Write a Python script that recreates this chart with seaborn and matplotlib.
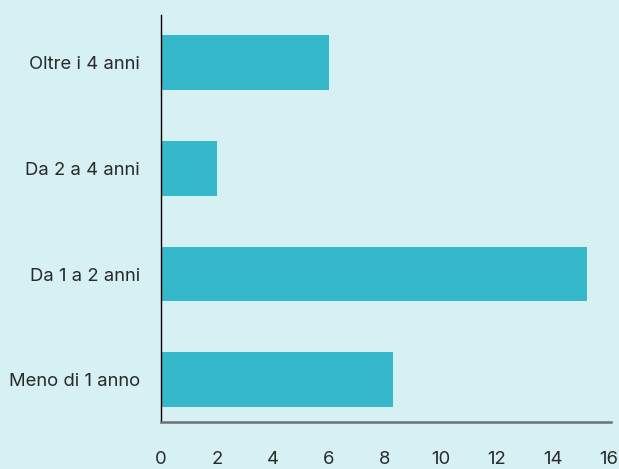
import pandas as pd
import matplotlib
matplotlib.use("Agg")
import matplotlib.pyplot as plt
import seaborn as sns

# data
categories = ["Oltre i 4 anni", "Da 2 a 4 anni", "Da 1 a 2 anni", "Meno di 1 anno"]
values = [6.0, 2.0, 15.2, 8.3]

df = pd.DataFrame({"Durata": categories, "Valore": values})

sns.set_style("white")
plt.rcParams["font.family"] = ["Inter", "DejaVu Sans"]

bg = "#d6f0f3"
bar_color = "#35b8ca"

fig = plt.figure(figsize=(6.19, 4.69), dpi=100, facecolor=bg)
ax = fig.add_axes([161 / 619, 1 - 422 / 469, (610.7 - 161) / 619, (422 - 15) / 469])
ax.set_facecolor(bg)

sns.barplot(data=df, x="Valore", y="Durata", orient="h", color=bar_color,
            saturation=1, width=0.52, linewidth=0, ax=ax)

ax.set_xlim(0, 16.06)
ax.set_ylim(3.40, -0.45)
ax.set_xticks(range(0, 17, 2))
ax.set_xlabel("")
ax.set_ylabel("")

for s in ["top", "right"]:
    ax.spines[s].set_visible(False)
ax.spines["left"].set_color("black")
ax.spines["left"].set_linewidth(1.0)
ax.spines["bottom"].set_color("#6b7273")
ax.spines["bottom"].set_linewidth(1.8)

ax.tick_params(axis="x", length=0, pad=21, labelsize=13.3, labelcolor="#2a2a2a")
ax.tick_params(axis="y", length=0, pad=15, labelsize=13.3, labelcolor="#2a2a2a")

fig.savefig("out.png", dpi=100, facecolor=bg)
